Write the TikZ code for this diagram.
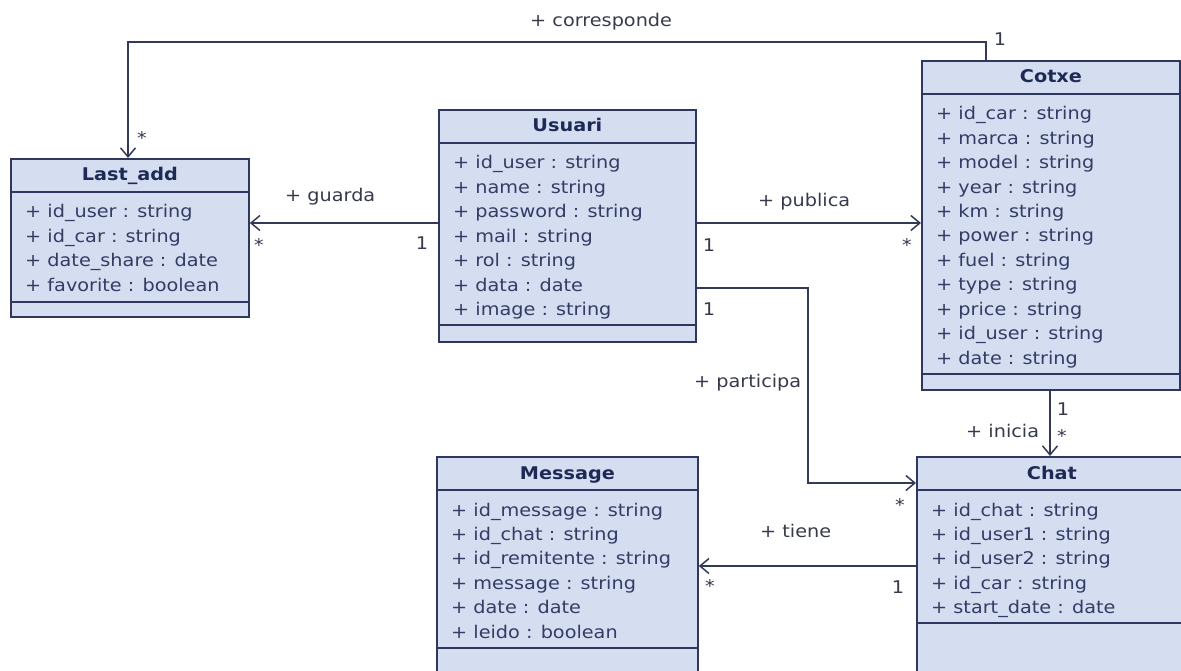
\documentclass[tikz,border=0pt]{standalone}
\usepackage{fontspec}
\setmainfont{DejaVu Sans}[FakeStretch=1.1]
\usepackage{tikz}
\usetikzlibrary{arrows.meta}

\definecolor{classfill}{RGB}{213,222,240}
\definecolor{classline}{RGB}{45,55,95}
\definecolor{titletext}{RGB}{30,42,85}
\definecolor{attrtext}{RGB}{50,60,100}
\definecolor{linkline}{RGB}{50,58,88}
\definecolor{labeltext}{RGB}{55,58,75}

\tikzset{
x=1pt, y=-1pt, % one unit is one pixel of the sketch, y grows downwards
classbox/.style={draw=classline, fill=classfill, line width=1.8pt, anchor=north west, inner sep=0pt}, % outer frame of a class
classname/.style={font=\fontsize{17.5pt}{21pt}\selectfont\bfseries, text=titletext, anchor=base, inner sep=0pt}, % class title
attr/.style={font=\fontsize{17.5pt}{21pt}\selectfont, text=attrtext, anchor=base west, inner sep=0pt}, % one attribute line
sepline/.style={draw=classline, line width=1.5pt}, % compartment separators
assoc/.style={draw=linkline, line width=1.5pt, -{Straight Barb[length=9pt,width=15pt]}}, % association with open arrow head
role/.style={font=\fontsize{17.5pt}{21pt}\selectfont, text=labeltext, anchor=base west, inner sep=0pt}, % association name
mult/.style={font=\fontsize{17.5pt}{21pt}\selectfont, text=labeltext, anchor=base, inner sep=0pt}, % multiplicity
}

\begin{document}
\begin{tikzpicture}
    \useasboundingbox (0,0) rectangle (1181,671);

    % classes
    \node[classbox, minimum width=238pt, minimum height=158pt] (lastadd) at (10,158) {};
    \node[classbox, minimum width=257pt, minimum height=232pt] (usuari) at (438,109) {};
    \node[classbox, minimum width=258pt, minimum height=329pt] (cotxe) at (921,60) {};
    \node[classbox, minimum width=261pt, minimum height=240pt] (message) at (436,456) {};
    \node[classbox, minimum width=270pt, minimum height=240pt] (chat) at (916,456) {};

    \draw[sepline] ([yshift=-34pt]lastadd.north west) -- ([yshift=-34pt]lastadd.north east);
    \draw[sepline] ([yshift=-144pt]lastadd.north west) -- ([yshift=-144pt]lastadd.north east);
    \draw[sepline] ([yshift=-34pt]usuari.north west) -- ([yshift=-34pt]usuari.north east);
    \draw[sepline] ([yshift=-216pt]usuari.north west) -- ([yshift=-216pt]usuari.north east);
    \draw[sepline] ([yshift=-34pt]cotxe.north west) -- ([yshift=-34pt]cotxe.north east);
    \draw[sepline] ([yshift=-314pt]cotxe.north west) -- ([yshift=-314pt]cotxe.north east);
    \draw[sepline] ([yshift=-34pt]message.north west) -- ([yshift=-34pt]message.north east);
    \draw[sepline] ([yshift=-192pt]message.north west) -- ([yshift=-192pt]message.north east);
    \draw[sepline] ([yshift=-34pt]chat.north west) -- ([yshift=-34pt]chat.north east);
    \draw[sepline] ([yshift=-167pt]chat.north west) -- ([yshift=-167pt]chat.north east);

    \node[classname] (lastadd-name) at ([yshift=-23pt]lastadd.north) {Last\_add};
    \node[classname] (usuari-name) at ([yshift=-23pt]usuari.north) {Usuari};
    \node[classname] (cotxe-name) at ([yshift=-23pt]cotxe.north) {Cotxe};
    \node[classname] (message-name) at ([yshift=-23pt]message.north) {Message};
    \node[classname] (chat-name) at ([yshift=-23pt]chat.north) {Chat};

    \foreach \a [count=\i from 0] in {id\_user : string, id\_car : string, date\_share : date, favorite : boolean}
        \node[attr] (lastadd-\i) at ([shift={(15pt,{-60pt-\i*24.4pt})}]lastadd.north west) {+ \a};
    \foreach \a [count=\i from 0] in {id\_user : string, name : string, password : string, mail : string, rol : string, data : date, image : string}
        \node[attr] (usuari-\i) at ([shift={(15pt,{-60pt-\i*24.4pt})}]usuari.north west) {+ \a};
    \foreach \a [count=\i from 0] in {id\_car, marca, model, year, km, power, fuel, type, price, id\_user, date}
        \node[attr] (cotxe-\i) at ([shift={(15pt,{-60pt-\i*24.4pt})}]cotxe.north west) {+ \a\ : string};
    \foreach \a [count=\i from 0] in {id\_message : string, id\_chat : string, id\_remitente : string, message : string, date : date, leido : boolean}
        \node[attr] (message-\i) at ([shift={(15pt,{-60pt-\i*24.4pt})}]message.north west) {+ \a};
    \foreach \a [count=\i from 0] in {id\_chat : string, id\_user1 : string, id\_user2 : string, id\_car : string, start\_date : date}
        \node[attr] (chat-\i) at ([shift={(15pt,{-60pt-\i*24.4pt})}]chat.north west) {+ \a};

    % associations
    \draw[assoc] ([xshift=65pt]cotxe.north west) -- ++(0,-18) -| ([xshift=118pt]lastadd.north west);
    \draw[assoc] ([yshift=-114pt]usuari.north west) coordinate (g) -- (g -| lastadd.east);
    \draw[assoc] ([yshift=-114pt]usuari.north east) coordinate (p) -- (p -| cotxe.west);
    \draw[assoc] ([yshift=-179pt]usuari.north east) -- ++(111,0) |- ([yshift=-27pt]chat.north west);
    \draw[assoc] ([xshift=129pt]cotxe.south west) coordinate (c) -- (c |- chat.north);
    \draw[assoc] ([yshift=-110pt]chat.north west) coordinate (t) -- (t -| message.east);

    % association names and multiplicities
    \node[role] (corresponde) at (530,27) {+ corresponde};
    \node[mult] (corresponde-1) at (1000,46) {1};
    \node[mult] (corresponde-n) at (142,145) {*};
    \node[role] (guarda) at (285,202) {+ guarda};
    \node[mult] (guarda-1) at (422,250) {1};
    \node[mult] (guarda-n) at (259,252) {*};
    \node[role] (publica) at (758,207) {+ publica};
    \node[mult] (publica-1) at (709,252) {1};
    \node[mult] (publica-n) at (907,252) {*};
    \node[role] (participa) at (694,387) {+ participa};
    \node[mult] (participa-1) at (709,315) {1};
    \node[mult] (participa-n) at (900,511) {*};
    \node[role] (inicia) at (966,437) {+ inicia};
    \node[mult] (inicia-1) at (1063,415) {1};
    \node[mult] (inicia-n) at (1062,442) {*};
    \node[role] (tiene) at (760,537) {+ tiene};
    \node[mult] (tiene-1) at (898,593) {1};
    \node[mult] (tiene-n) at (710,592) {*};
\end{tikzpicture}
\end{document}
